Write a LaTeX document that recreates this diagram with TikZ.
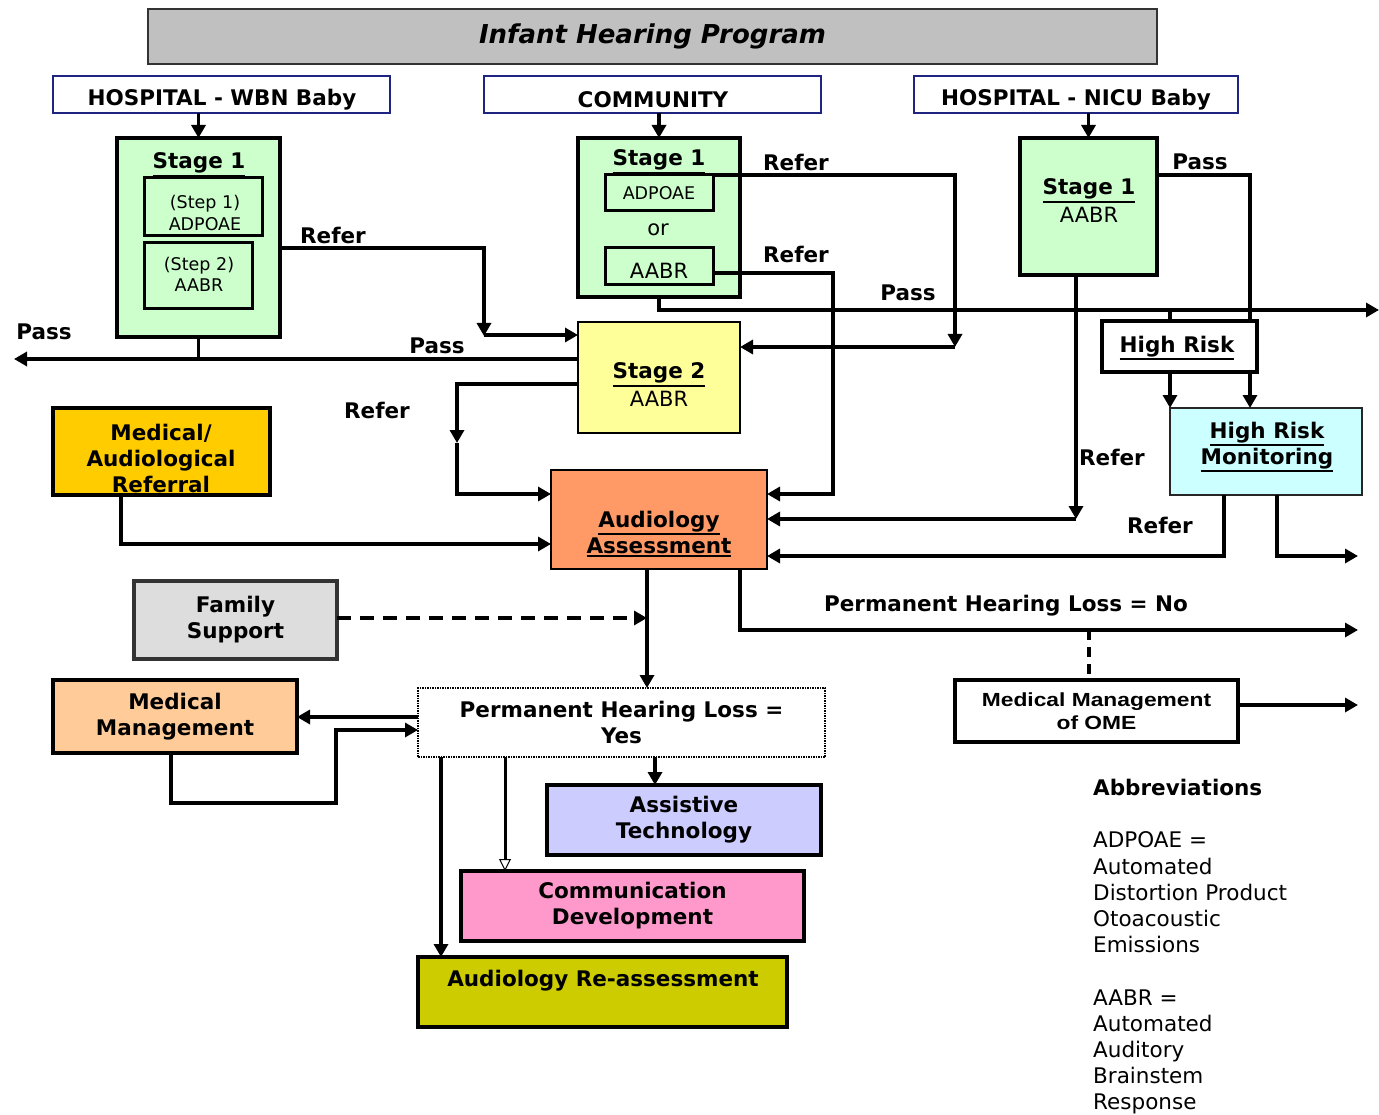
\documentclass[tikz,border=0pt]{standalone}
\usepackage{fontspec}
\setmainfont{DejaVu Sans}
\newfontfamily\arialf[FakeStretch=1.2]{Liberation Sans}
\usetikzlibrary{arrows.meta}
\definecolor{tgray}{HTML}{C0C0C0}
\definecolor{navy}{RGB}{30,36,128}
\definecolor{sgreen}{HTML}{CCFFCC}
\definecolor{syellow}{HTML}{FFFF99}
\definecolor{sorange}{HTML}{FF9966}
\definecolor{sgold}{HTML}{FFCC00}
\definecolor{slgray}{HTML}{DDDDDD}
\definecolor{speach}{HTML}{FFCC99}
\definecolor{slav}{HTML}{CCCCFF}
\definecolor{spink}{HTML}{FF99CC}
\definecolor{solive}{HTML}{CCCC00}
\definecolor{scyan}{HTML}{CCFFFF}
\newcommand\ulx[1]{\vtop{\hbox{#1}\kern1.5pt\hrule height 2pt}}
\newcommand\boxat[6]{\node[#6, minimum width={#4-#2}, minimum height={#5-#3}, anchor=north west, inner sep=0pt, outer sep=0pt] (#1) at (#2,#3) {};}
\begin{document}
\begin{tikzpicture}[x=1pt,y=-1pt,
  bx/.style={draw=black, line width=4pt},
  hdr/.style={draw=navy, fill=white, line width=2.5pt},
  inner/.style={draw=black, line width=3pt},
  lbl/.style={inner sep=0pt, font=\fontsize{21.5}{26}\selectfont\bfseries, align=center},
  ltxt/.style={inner sep=0pt, font=\fontsize{21}{26}\selectfont, align=center},
  lnk/.style={line width=3.5pt},
  conn/.style={line width=3.5pt, -{Triangle[length=13pt,width=14pt]}},
]
\useasboundingbox (0,0) rectangle (1379,1115);
\fill[white] (0,0) rectangle (1379,1115);

% boxes
\node[draw=black!80, fill=tgray, line width=2.5pt, minimum width=1009, minimum height=55, anchor=north west, inner sep=0pt, outer sep=0pt,
  font=\fontsize{26}{30}\selectfont\bfseries\itshape] (title) at (148,9) {Infant Hearing Program};
\boxat{hw}{53}{76}{390}{113}{hdr}
\boxat{hc}{484}{76}{821}{113}{hdr}
\boxat{hn}{914}{76}{1238}{113}{hdr}
\node[lbl] (hwt) at (222,100) {HOSPITAL - WBN Baby};
\node[lbl] (hct) at (653,100) {COMMUNITY};
\node[lbl] (hnt) at (1076,100) {HOSPITAL - NICU Baby};

\boxat{s1w}{117}{138}{280}{337}{bx, fill=sgreen}
\boxat{st1}{144}{178}{262}{236}{inner, fill=sgreen}
\boxat{st2}{144}{243}{252}{309}{inner, fill=sgreen}
\node[inner sep=0pt, font=\fontsize{17.5}{22}\selectfont, align=center] (st1t) at (205,213) {(Step 1)\\ADPOAE};
\node[inner sep=0pt, font=\fontsize{17.5}{21}\selectfont, align=center] (st2t) at (199,274) {(Step 2)\\AABR};
\node[lbl] (s1wt) at (199,165) {\ulx{Stage 1}};

\boxat{s1c}{578}{138}{740}{297}{bx, fill=sgreen}
\node[inner, fill=sgreen, minimum width=108, minimum height=36, anchor=north west, inner sep=0pt, outer sep=0pt,
  font=\fontsize{17.5}{20}\selectfont] (cad) at (605,175) {ADPOAE};
\node[inner, fill=sgreen, minimum width=108, minimum height=37, anchor=north west, inner sep=0pt, outer sep=0pt,
  font=\fontsize{21}{22}\selectfont] (cab) at (605,248) {\raisebox{-4pt}[\height][0pt]{AABR}};
\node[lbl] (s1ct) at (659,162) {\ulx{Stage 1}};
\node[ltxt] (ort) at (658,230) {or};

\boxat{s1n}{1020}{138}{1157}{275}{bx, fill=sgreen}
\node[lbl] (s1nt) at (1089,191) {\ulx{Stage 1}};
\node[ltxt] (s1na) at (1089,215) {AABR};

\boxat{s2}{578}{322}{740}{433}{draw=black, line width=2.5pt, fill=syellow}
\node[lbl] (s2t) at (659,375) {\ulx{Stage 2}};
\node[ltxt] (s2a) at (659,399) {AABR};

\boxat{hrm}{1170}{408}{1362}{495}{draw=black!85, line width=2.5pt, fill=scyan}
\node[lbl] (hrmt) at (1267,447) {\ulx{High Risk}\\\ulx{Monitoring}};

\boxat{mar}{53}{408}{270}{495}{bx, fill=sgold}
\node[lbl] (mart) at (161,458) {Medical/\\Audiological\\Referral};

\boxat{aa}{551}{470}{767}{569}{draw=black, line width=2.5pt, fill=sorange}
\node[lbl] (aat) at (659,534) {\ulx{Audiology}\\\ulx{Assessment}};

\node[draw=black!80, line width=3.5pt, fill=slgray, minimum width=203, minimum height=78, anchor=north west, inner sep=0pt, outer sep=0pt, lbl] (fs) at (134,581) {Family\\Support};
\node[draw=black, line width=3.5pt, fill=speach, minimum width=244, minimum height=73, anchor=north west, inner sep=0pt, outer sep=0pt, lbl] (mm) at (53,680) {Medical\\Management};
\node[draw=black, line width=2.5pt, dash pattern=on 1.5pt off 1pt, fill=white, minimum width=407, minimum height=69, anchor=north west, inner sep=0pt, outer sep=0pt, lbl] (phl) at (418,688) {Permanent Hearing Loss =\\Yes};
\node[draw=black, line width=3.5pt, fill=white, minimum width=283, minimum height=62, anchor=north west, inner sep=0pt, outer sep=0pt,
  font=\arialf\fontsize{19}{23}\selectfont\bfseries, align=center] (ome) at (955,680) {Medical Management\\of OME};
\node[draw=black, line width=4pt, fill=slav, minimum width=274, minimum height=70, anchor=north west, inner sep=0pt, outer sep=0pt, lbl] (at) at (547,785) {Assistive\\Technology};
\node[draw=black, line width=4pt, fill=spink, minimum width=343, minimum height=70, anchor=north west, inner sep=0pt, outer sep=0pt, lbl] (cd) at (461,871) {Communication\\Development};
\boxat{ar}{418}{957}{787}{1027}{bx, fill=solive}
\node[lbl] (art) at (603,981) {Audiology Re-assessment};

% connectors
\draw[conn] (s1w.north |- hw.south) -- (s1w.north);
\draw[conn] (s1c.north |- hc.south) -- (s1c.north);
\draw[conn] (s1n.north |- hn.south) -- (s1n.north);

\coordinate (jw) at (484,335);
\draw[conn] (s1w.east |- 0,248) -| ([yshift=-1]jw);
\draw[conn] (jw) -- (s2.west |- jw);

\coordinate (pw) at (14,359);
\draw[lnk] (s1w.south) -- (s1w.south |- pw);
\draw[conn] (s2.west |- pw) -- (pw);

\coordinate (r2) at (457,443);
\draw[conn] (s2.west |- 0,384) -| (r2);
\draw[conn] (r2) |- (aa.west |- 0,494);

\coordinate (rc1) at (955,347);
\draw[conn] (cad.north east) -| (rc1);
\draw[conn] (rc1) -- (s2.east |- rc1);

\coordinate (rc2) at (833,494);
\draw[conn] (cab.east |- 0,273) -| (rc2) -- (aa.east |- rc2);

\coordinate (pc) at (1379,310);
\draw[conn] (s1c.south) |- (pc);

% high risk
\boxat{hr}{1102}{321}{1257}{372}{bx, fill=white}
\node[lbl] (hrt) at (1177,348) {\ulx{High Risk}};
\draw[lnk] (s1n.east |- 0,175) -| (hr.north -| 1250,0);
\draw[conn] (hr.south -| 1250,0) -- (hrm.north -| 1250,0);
\draw[lnk] (hrm.west |- pc) -- (hrm.west |- hr.north);
\draw[conn] (hrm.west |- hr.south) -- (hrm.north west);

\coordinate (rn) at (1076,519);
\draw[conn] (s1n.south -| rn) -- (rn);
\draw[conn] (rn) -- (aa.east |- rn);
\draw[conn] (hrm.south -| 1224,0) |- (aa.east |- 0,556);
\coordinate (ho) at (1358,556);
\draw[conn] (hrm.south -| 1277,0) |- (ho);

\draw[conn] (mar.south -| 121,0) |- (aa.west |- 0,544);

\coordinate (fsj) at (647,618);
\draw[conn, dash pattern=on 14pt off 9pt] (fs.east |- fsj) -- (fsj);
\draw[conn] (aa.south -| 647,0) -- (phl.north -| 647,0);

\coordinate (no) at (1358,630);
\draw[conn] (aa.south -| 740,0) |- (no);
\draw[lnk, dash pattern=on 10pt off 7pt] (1089,630) -- (ome.north -| 1089,0);
\coordinate (omeo) at (1358,705);
\draw[conn] (ome.east |- omeo) -- (omeo);

\draw[conn] (phl.west |- 0,717) -- (mm.east |- 0,717);
\draw[conn] (mm.south -| 171,0) |- (336,803) |- (phl.west |- 0,730);
\draw[conn] (phl.south -| 655,0) -- (at.north -| 655,0);
\draw[line width=3pt, -{Triangle[open, length=12pt, width=12pt, line width=1pt, fill=white]}] (phl.south -| 505,0) -- (cd.north -| 505,0);
\draw[conn] (phl.south -| 441,0) -- (ar.north -| 441,0);

% labels
\node[lbl] (l1) at (333,235) {Refer};
\node[lbl] (l2) at (44,332) {Pass};
\node[lbl] (l3) at (437,346) {Pass};
\node[lbl] (l4) at (377,410) {Refer};
\node[lbl] (l5) at (796,162) {Refer};
\node[lbl] (l6) at (796,254) {Refer};
\node[lbl] (l7) at (908,293) {Pass};
\node[lbl] (l8) at (1200,162) {Pass};
\node[lbl] (l9) at (1112,457) {Refer};
\node[lbl] (l10) at (1160,525) {Refer};
\node[lbl] (l11) at (1006,606) {Permanent Hearing Loss = No};

\node[inner sep=0pt, anchor=north west, align=left, font=\fontsize{21.5}{26.2}\selectfont] (abbr) at (1093,779)
 {\textbf{Abbreviations}\\[26.2pt]ADPOAE =\\Automated\\Distortion Product\\Otoacoustic\\Emissions\\[26.2pt]AABR =\\Automated\\Auditory\\Brainstem\\Response};
\end{tikzpicture}
\end{document}
